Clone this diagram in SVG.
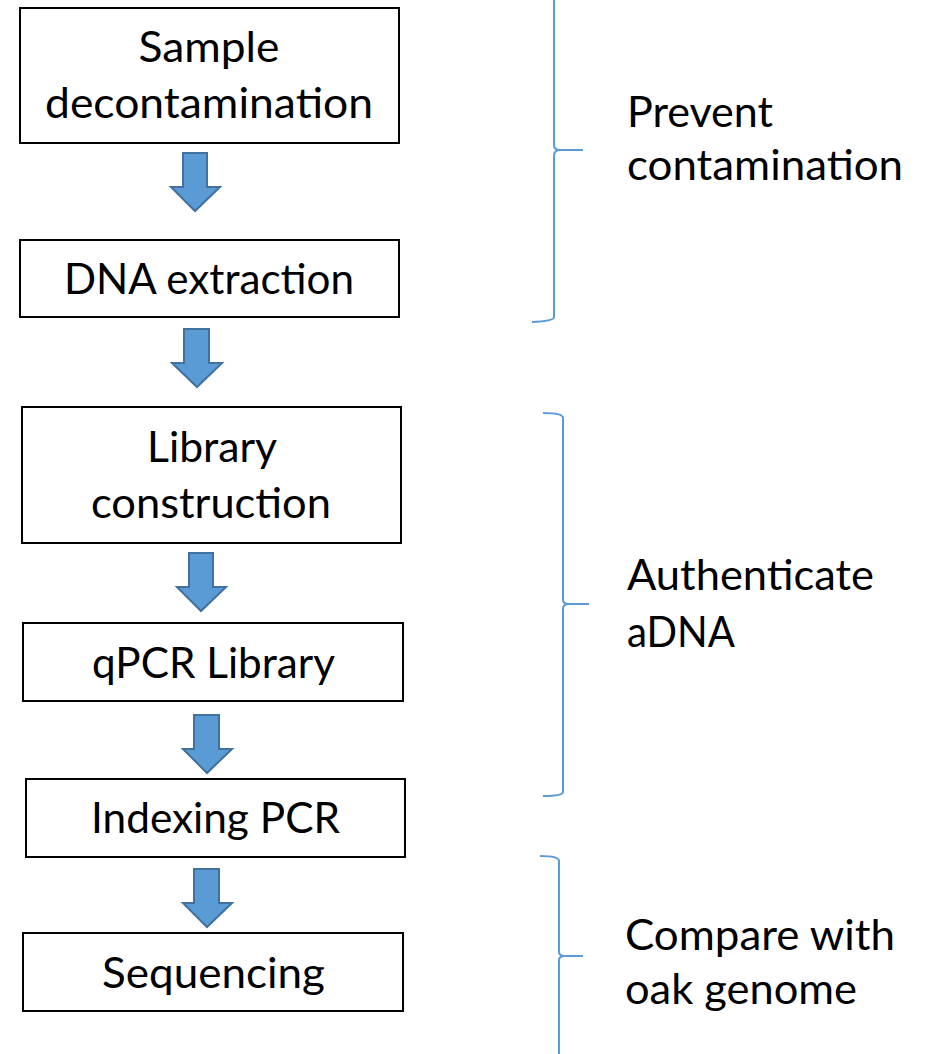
<svg xmlns="http://www.w3.org/2000/svg" width="928" height="1054" viewBox="0 0 928 1054">
<style>
.box{fill:#fff;stroke:#000;stroke-width:2}
.t{font-family:Lato,"Open Sans","Liberation Sans",sans-serif;font-size:42px;fill:#000}
.c{text-anchor:middle}
.arrow{fill:#5B9BD5;stroke:#41719C;stroke-width:2;stroke-linejoin:miter}
.brace{fill:none;stroke:#5B9BD5;stroke-width:2}
</style>
<rect width="928" height="1054" fill="#fff"/>
<g id="n1"><rect class="box" x="20" y="8" width="379" height="135"/>
<text class="t c" x="209" y="62" textLength="141" lengthAdjust="spacingAndGlyphs">Sample</text>
<text class="t c" x="209" y="118" textLength="328" lengthAdjust="spacingAndGlyphs">decontamination</text></g>
<g id="n2"><rect class="box" x="20" y="240" width="379" height="77"/>
<text class="t c" x="209" y="294" textLength="290" lengthAdjust="spacingAndGlyphs">DNA extraction</text></g>
<g id="n3"><rect class="box" x="22" y="407" width="379" height="136"/>
<text class="t c" x="212" y="462" textLength="130" lengthAdjust="spacingAndGlyphs">Library</text>
<text class="t c" x="211" y="518" textLength="240" lengthAdjust="spacingAndGlyphs">construction</text></g>
<g id="n4"><rect class="box" x="23" y="623" width="380" height="78"/>
<text class="t c" x="213.5" y="678" textLength="243" lengthAdjust="spacingAndGlyphs">qPCR Library</text></g>
<g id="n5"><rect class="box" x="26" y="779" width="379" height="78"/>
<text class="t c" x="215.5" y="833" textLength="249" lengthAdjust="spacingAndGlyphs">Indexing PCR</text></g>
<g id="n6"><rect class="box" x="23" y="933" width="380" height="78"/>
<text class="t c" x="213.5" y="988" textLength="223" lengthAdjust="spacingAndGlyphs">Sequencing</text></g>
<g id="connectors">
<polygon class="arrow" points="183,153 207,153 207,187 220,187 195,211 171,187 183,187"/>
<polygon class="arrow" points="184,329 209,329 209,363 222,363 197,387 172,363 184,363"/>
<polygon class="arrow" points="189,553 213,553 213,587 226,587 201,611 177,587 189,587"/>
<polygon class="arrow" points="194,715 219,715 219,749 232,749 207,773 183,749 194,749"/>
<polygon class="arrow" points="194,869 219,869 219,903 232,903 207,927 183,903 194,903"/>
</g>
<g id="brace1">
<path class="brace" d="M554,-2 L554,145 Q554,150 560,150 L583,150 M583,150 L560,150 Q554,150 554,156 L554,317 Q554,321 532,322"/>
<text class="t" x="627" y="127" textLength="146" lengthAdjust="spacingAndGlyphs">Prevent</text>
<text class="t" x="627" y="180" textLength="276" lengthAdjust="spacingAndGlyphs">contamination</text>
</g>
<g id="brace2">
<path class="brace" d="M543,413 Q563,413 563,418 L563,600 Q563,604 569,604 L589,604 M569,604 Q563,604 563,609 L563,792 Q563,796 543,796"/>
<text class="t" x="627" y="590" textLength="247" lengthAdjust="spacingAndGlyphs">Authenticate</text>
<text class="t" x="627" y="647" textLength="108" lengthAdjust="spacingAndGlyphs">aDNA</text>
</g>
<g id="brace3">
<path class="brace" d="M540,856 Q559,856 559,861 L559,952 Q559,956 565,956 L583,956 M565,956 Q559,956 559,960 L559,1056"/>
<text class="t" x="625" y="950" textLength="270" lengthAdjust="spacingAndGlyphs">Compare with</text>
<text class="t" x="625" y="1004" textLength="232" lengthAdjust="spacingAndGlyphs">oak genome</text>
</g>
</svg>
